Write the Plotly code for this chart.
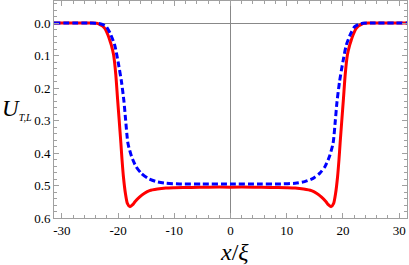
import plotly.graph_objects as go

# Red solid curve (U_T)
red_x = [-31.4, -26.0, -24.5, -23.8, -23.3, -22.8, -22.4, -22.1, -21.8, -21.5, -21.2, -20.8,
         -20.4, -20.1, -19.8, -19.5, -19.3, -19.05, -18.7, -18.35, -17.9, -17.4, -17.0, -16.2,
         -15.3, -14.4, -13.0, -11.5, -10.0, -7.0, -4.0, 0.0,
         4.0, 7.0, 10.0, 11.5, 13.0, 14.4, 15.3, 16.2, 17.0, 17.4, 17.9, 18.35, 18.7, 19.05,
         19.3, 19.5, 19.8, 20.1, 20.4, 20.8, 21.2, 21.5, 21.8, 22.1, 22.4, 22.8, 23.3, 23.8,
         24.5, 26.0, 31.4]
red_y = [0.0, 0.0, 0.0, 0.001, 0.004, 0.009, 0.016, 0.025, 0.037, 0.052, 0.068, 0.098,
         0.16, 0.232, 0.30, 0.37, 0.42, 0.473, 0.524, 0.555, 0.565, 0.559, 0.55, 0.536,
         0.524, 0.516, 0.511, 0.508, 0.507, 0.506, 0.505, 0.505,
         0.505, 0.506, 0.507, 0.508, 0.511, 0.516, 0.524, 0.536, 0.55, 0.559, 0.565, 0.555, 0.524, 0.473,
         0.42, 0.37, 0.30, 0.232, 0.16, 0.098, 0.068, 0.052, 0.037, 0.025, 0.016, 0.009, 0.004, 0.001,
         0.0, 0.0, 0.0]

# Blue dashed curve (U_L)
blue_x = [-31.4, -25.0, -23.5, -22.8, -22.1, -21.4, -20.6, -20.0, -19.4, -18.95, -18.65, -18.25,
          -17.6, -16.8, -15.9, -14.7, -13.2, -11.5, -9.0, -5.0, 0.0,
          5.0, 9.0, 11.5, 13.2, 14.7, 15.9, 16.8, 17.6, 18.25, 18.65, 18.95, 19.4, 20.0, 20.6,
          21.4, 22.1, 22.8, 23.5, 25.0, 31.4]
blue_y = [0.0, 0.0, 0.001, 0.004, 0.011, 0.032, 0.068, 0.119, 0.18, 0.242, 0.30, 0.37,
          0.411, 0.442, 0.462, 0.478, 0.488, 0.493, 0.495, 0.495, 0.495,
          0.495, 0.495, 0.493, 0.488, 0.478, 0.462, 0.442, 0.411, 0.37, 0.30, 0.242, 0.18, 0.119, 0.068,
          0.032, 0.011, 0.004, 0.001, 0.0, 0.0]

x_tickvals = [-30, -20, -10, 0, 10, 20, 30]
x_ticktext = ["-30", "-20", "-10", "0", "10", "20", "30"]
y_tickvals = [0.0, 0.1, 0.2, 0.3, 0.4, 0.5, 0.6]
y_ticktext = ["0.0", "0.1", "0.2", "0.3", "0.4", "0.5", "0.6"]

serif = "Liberation Serif"
frame = "#a0a0a0"

fig = go.Figure()
fig.add_trace(go.Scatter(x=red_x, y=red_y, mode="lines",
                         line=dict(color="#ff0000", width=3, shape="spline", smoothing=0.6),
                         showlegend=False))
fig.add_trace(go.Scatter(x=blue_x, y=blue_y, mode="lines",
                         line=dict(color="#0000ff", width=3, dash="6px,3px", shape="spline", smoothing=0.6),
                         showlegend=False))

fig.update_layout(
    width=409, height=265,
    margin=dict(l=54, r=2, t=1, b=47, autoexpand=False),
    paper_bgcolor="white", plot_bgcolor="white",
    font=dict(family=serif, size=12, color="black"),
    xaxis=dict(range=[-31.4, 31.4], showgrid=False, zeroline=True, zerolinecolor="#888888",
               zerolinewidth=1, showline=True, linecolor=frame, linewidth=1, mirror="allticks",
               ticks="inside", ticklen=5, tickcolor=frame, tickvals=x_tickvals, ticktext=x_ticktext,
               tickfont=dict(family=serif, size=13), automargin=False,
               minor=dict(dtick=2, ticks="inside", ticklen=3, tickcolor=frame, showgrid=False)),
    yaxis=dict(range=[0.6, -0.0677], showgrid=False, zeroline=True, zerolinecolor="#888888",
               zerolinewidth=1, showline=True, linecolor=frame, linewidth=1, mirror="allticks",
               ticks="inside", ticklen=5, tickcolor=frame, tickvals=y_tickvals, ticktext=y_ticktext,
               tickfont=dict(family=serif, size=13), automargin=False,
               minor=dict(dtick=0.02, ticks="inside", ticklen=3, tickcolor=frame, showgrid=False)),
)

fig.add_annotation(text="<i>U</i><sub><span style='font-size:10px'><i>T,L</i></span></sub>",
                   xref="paper", yref="paper", x=-0.152, y=0.5, xanchor="left", yanchor="middle",
                   showarrow=False, font=dict(family=serif, size=23, color="black"))
fig.add_annotation(text="<i>x</i>/<i>ξ</i>", xref="paper", yref="paper", x=0.51, y=-0.155,
                   xanchor="center", yanchor="middle", showarrow=False,
                   font=dict(family=serif, size=24, color="black"))

fig.write_html("out.html", config={"displayModeBar": False},
               post_script="document.body.style.margin='0';document.body.style.overflow='hidden';")
